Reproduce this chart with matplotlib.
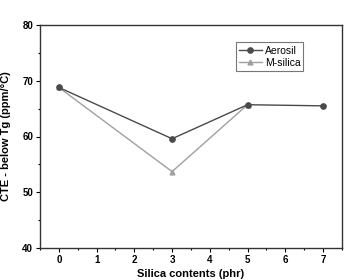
import matplotlib
matplotlib.use('Agg')
import matplotlib.pyplot as plt
from matplotlib.ticker import MultipleLocator

plt.rcParams['font.family'] = ['Liberation Sans', 'DejaVu Sans']

# data
aerosil_x = [0, 3, 5, 7]
aerosil_y = [68.8, 59.6, 65.7, 65.5]
msilica_x = [0, 3, 5]
msilica_y = [68.8, 53.7, 65.7]

fig = plt.figure(figsize=(3.46, 2.80), dpi=100)
ax = fig.add_axes([0.1156, 0.1143, 0.8724, 0.7964])

ax.plot(msilica_x, msilica_y, color='#a0a0a0', lw=1.0, marker='^', ms=3.5,
        label='M-silica', zorder=2)
ax.plot(aerosil_x, aerosil_y, color='#4a4a4a', lw=1.0, marker='o', ms=3.8,
        label='Aerosil', zorder=3)

ax.set_xlim(-0.5, 7.5)
ax.set_ylim(40, 80)
ax.xaxis.set_major_locator(MultipleLocator(1))
ax.xaxis.set_minor_locator(MultipleLocator(0.5))
ax.yaxis.set_major_locator(MultipleLocator(10))
ax.yaxis.set_minor_locator(MultipleLocator(5))
ax.tick_params(which='major', length=3, width=0.8, labelsize=7, pad=2)
ax.tick_params(which='minor', length=1.5, width=0.8)
for lbl in ax.get_xticklabels() + ax.get_yticklabels():
    lbl.set_fontweight('bold')
for sp in ax.spines.values():
    sp.set_linewidth(1.0)
    sp.set_color('#333333')

ax.set_xlabel('Silica contents (phr)', fontsize=8, fontweight='bold', labelpad=3)
ax.set_ylabel('CTE - below Tg (ppm/°C)', fontsize=8, fontweight='bold', labelpad=8)

h, l = ax.get_legend_handles_labels()
leg = ax.legend(h[::-1], l[::-1], loc='upper right', bbox_to_anchor=(0.89, 0.945),
                fontsize=7.5, frameon=True, fancybox=False, edgecolor='#555555',
                handlelength=2.2, handletextpad=0.3, borderpad=0.3, labelspacing=0.2)
leg.get_frame().set_linewidth(0.8)

fig.savefig('out.png', dpi=100)
